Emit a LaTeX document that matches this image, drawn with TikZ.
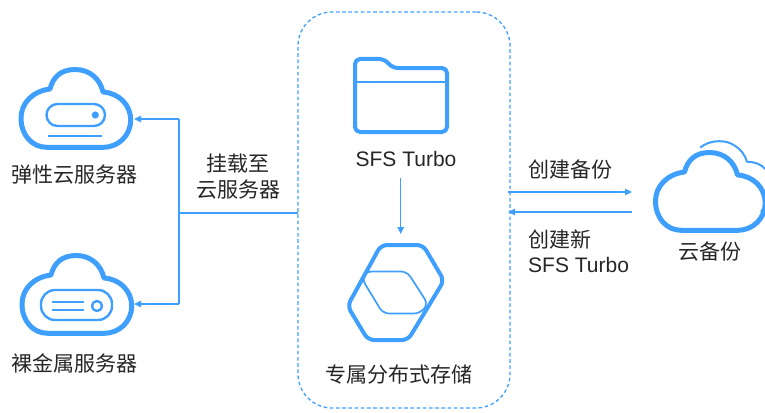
\documentclass[tikz,border=0pt]{standalone}
\usepackage{fontspec}
\setmainfont{Liberation Sans}
\newfontfamily\cjk{Noto Sans CJK SC}
\usetikzlibrary{arrows.meta}
\definecolor{hwblue}{HTML}{3F9FFF}
\definecolor{hwtext}{HTML}{262626}
\tikzset{
  x=1pt,y=-1pt,
  icon/.style={draw=hwblue,line width=5pt,line join=round},
  iconthin/.style={draw=hwblue,line width=2pt},
  link/.style={draw=hwblue,line width=1.3pt,-{Triangle[length=7pt,width=6.5pt]}},
  linkplain/.style={draw=hwblue,line width=1.3pt},
  label/.style={inner sep=0pt,text=hwtext,font=\fontsize{21}{26}\selectfont\cjk,align=center},
  latin/.style={inner sep=0pt,text=hwtext,font=\fontsize{21}{26}\selectfont},
  frame/.style={draw=hwblue,line width=1.3pt,dash pattern=on 3.6pt off 2.6pt,rounded corners=34pt,
    minimum width=212pt,minimum height=396pt,inner sep=0pt},
  cloudicon/.pic={
    \draw[icon] (46.7,147.3) -- (103,147.3)
      .. controls (119,147.3) and (130.7,135) .. (130.7,120)
      .. controls (130.7,105) and (119,93) .. (103,92)
      .. controls (100,79) and (90,69.5) .. (75,69.5)
      .. controls (61,69.5) and (53,77) .. (50,89)
      .. controls (33,91) and (21,103) .. (21,118)
      .. controls (21,135) and (32,147.3) .. (46.7,147.3) -- cycle;
  }
}
\begin{document}
\begin{tikzpicture}
\useasboundingbox (0,0) rectangle (765,412);
% frame
\node[frame] (store) at (404,210) {};
% clouds
\pic at (0,0) {cloudicon};
\pic at (1,186) {cloudicon};
\begin{scope}[shift={(634.5,83)},xscale=0.985,yscale=0.96]
\pic at (0,0) {cloudicon};
\end{scope}
% ECS glyph
\draw[icon,line width=2.4pt,rounded corners=11pt] (46.5,104) rectangle (105,126);
\fill[hwblue] (95.3,115) circle (3.6);
\draw[iconthin] (48,136) -- (102,136);
% BMS glyph
\draw[icon,line width=2.4pt,rounded corners=14pt] (41,290) rectangle (112,320);
\draw[iconthin] (52,302) -- (84,302) (52,310) -- (84,310);
\draw[icon,line width=2.4pt] (97,306) circle (5);
% backup back cloud
\draw[iconthin,line cap=round] (700.7,147.3)
  .. controls (708,141) and (722,139) .. (732,144)
  .. controls (741,149) and (745,155) .. (747,161.7)
  .. controls (756,162) and (762,165) .. (765,169);
\draw[iconthin] (761,212) -- (765,206);
% folder
\draw[icon,line width=4pt,rounded corners=5pt] (355,59) -- (384,59) -- (393,68) -- (447,68) -- (447,132) -- (355,132) -- cycle;
\draw[iconthin] (355,82) -- (447,82);
% hexagon
\draw[icon,line width=4pt,rounded corners=6pt] (381,245) -- (423,245) -- (444,280.5) -- (408,340) -- (368,340) -- (347.5,306) -- cycle;
\draw[iconthin,line width=1.7pt,rounded corners=6pt] (365,272) -- (371,271.5) -- (407,271.5) -- (428,304) -- (420,313.5) -- (383,313.5) -- (362,279) -- cycle;
% labels
\node[label] (ecs) at (75,175) {弹性云服务器};
\node[label] (bms) at (75,363) {裸金属服务器};
\node[label] (mount) at (238,177) {挂载至\\云服务器};
\node[latin] (sfs) at (406,159) {SFS Turbo};
\node[label] (dss) at (399,375) {专属分布式存储};
\node[label,anchor=west] (backup) at (528,169) {创建备份};
\node[label,anchor=west] (restore) at (528,239) {创建新};
\node[latin,anchor=west] (newsfs) at (528,265) {SFS Turbo};
\node[label] (cbr) at (710,252) {云备份};
% connector anchors
\coordinate (ecsin) at (134,119);
\coordinate (bmsin) at (134,304);
\coordinate (trunkT) at (179,119);
\coordinate (trunkB) at (179,304);
\coordinate (trunkM) at (179,213);
\coordinate (frameL) at (298,213);
\coordinate (sfsout) at (400.7,178);
\coordinate (dssin) at (400.7,234);
\coordinate (frameR1) at (508,192);
\coordinate (frameR2) at (508,212);
\coordinate (cbrin) at (632,192);
\coordinate (cbrout) at (632,212);
% connectors
\draw[linkplain] (trunkT) -- (trunkB);
\draw[linkplain] (frameL) -- (trunkM);
\draw[link] (trunkT) -- (ecsin);
\draw[link] (trunkB) -- (bmsin);
\draw[link] (sfsout) -- (dssin);
\draw[link] (frameR1) -- (cbrin);
\draw[link] (cbrout) -- (frameR2);
\end{tikzpicture}
\end{document}
